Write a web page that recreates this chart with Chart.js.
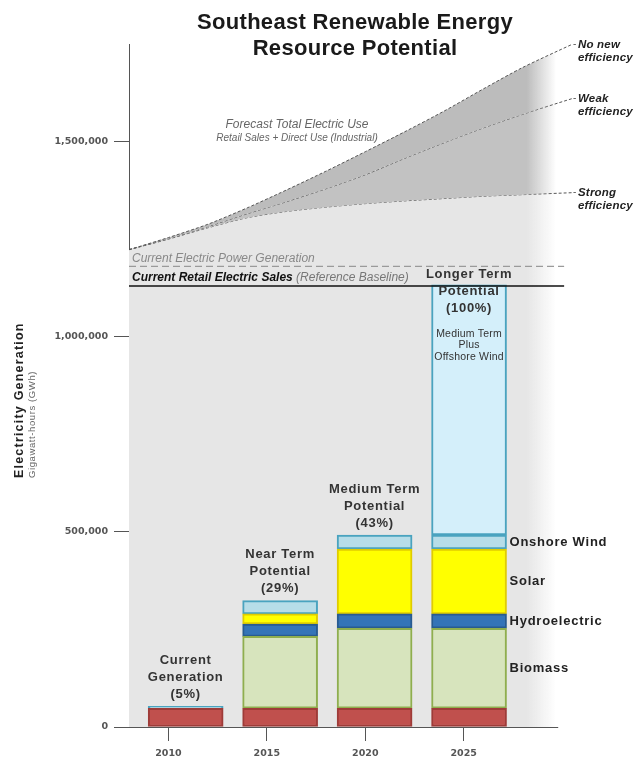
<!DOCTYPE html>
<html>
<head>
<meta charset="utf-8">
<title>Southeast Renewable Energy Resource Potential</title>
<script src="https://cdn.jsdelivr.net/npm/chart.js@4.4.1/dist/chart.umd.min.js"></script>
<style>
  html, body { margin: 0; padding: 0; background: #fff; }
</style>
</head>
<body>
<canvas id="chart" width="639" height="761"></canvas>
<script>
// bar categories and tick labels
const years = [2010, 2015, 2020, 2025];
const yTicks = [0, 500000, 1000000, 1500000];

// stacked generation potential (GWh), bottom to top
const existing = [48000, 48000, 48000, 48000];
const biomass = [0, 184000, 205000, 205000];
const hydro = [0, 32000, 37000, 37000];
const solar = [0, 26000, 166000, 166000];
const onshoreWind = [5000, 34000, 36000, 36000];
const offshoreWind = [0, 0, 0, 641000];

const barLabels = [
  ["Current", "Generation", "(5%)"],
  ["Near Term", "Potential", "(29%)"],
  ["Medium Term", "Potential", "(43%)"],
  ["Longer Term", "Potential", "(100%)"]
];
const offshoreNote = ["Medium Term", "Plus", "Offshore Wind"];
const segmentLabels = ["Biomass", "Hydroelectric", "Solar", "Onshore Wind"];

// forecast total electric use (GWh)
const forecastYears = [2008, 2010, 2012, 2014, 2016, 2018, 2020, 2022, 2024, 2026, 2028, 2030.5];
const noNewEfficiency = [1223000, 1254000, 1288000, 1330000, 1376000, 1424000, 1474000, 1525000, 1578000, 1635000, 1690000, 1749000];
const weakEfficiency = [1223000, 1251000, 1282000, 1315000, 1346000, 1379000, 1415000, 1457000, 1497000, 1535000, 1570000, 1610000];
const strongEfficiency = [1223000, 1250000, 1279000, 1305000, 1321000, 1332000, 1341000, 1348000, 1354000, 1360000, 1364000, 1369000];
const efficiencyLabels = [["No new", "efficiency"], ["Weak", "efficiency"], ["Strong", "efficiency"]];

// reference lines
const refYears = [2008, 2030.1];
const powerGeneration = 1180000;
const retailSales = 1130000;

const FONT = '"Liberation Sans", Arial, sans-serif';
const TICKFONT = '"DejaVu Sans", "Liberation Sans", sans-serif';
const axisEnd = 2029.8;
const fadeFrom = 2028.2, fadeTo = 2029.7;

function fade(r, g, b) {
  return (c) => {
    const chart = c.chart;
    const xs = chart.scales && chart.scales.x;
    if (!chart.chartArea || !xs) return `rgb(${r},${g},${b})`;
    const x0 = xs.getPixelForValue(fadeFrom), x1 = xs.getPixelForValue(fadeTo);
    const grad = chart.ctx.createLinearGradient(x0, 0, x1, 0);
    grad.addColorStop(0, `rgba(${r},${g},${b},1)`);
    grad.addColorStop(1, `rgba(${r},${g},${b},0)`);
    return grad;
  };
}

function bar(label, values, bg, border) {
  return {
    type: "bar", label,
    data: values.map((v, i) => ({ x: i, y: v })).filter(p => p.y > 0),
    xAxisID: "xb", yAxisID: "y", stack: "bars", order: 1, grouped: false,
    backgroundColor: bg, borderColor: border, borderWidth: 2,
    borderSkipped: false, barThickness: 75
  };
}

function forecast(label, values, fill, bg, order) {
  return {
    type: "line", label,
    data: forecastYears.map((x, i) => ({ x, y: values[i] })),
    xAxisID: "x", yAxisID: "y", stack: label, order,
    borderColor: "#555", borderWidth: 1, borderDash: [3, 2],
    pointRadius: 0, tension: 0.25, fill, backgroundColor: bg
  };
}

function refLine(label, value, color, width, dash) {
  return {
    type: "line", label,
    data: refYears.map(x => ({ x, y: value })),
    xAxisID: "x", yAxisID: "y", stack: label, order: 0,
    borderColor: color, borderWidth: width, borderDash: dash,
    pointRadius: 0, fill: false
  };
}

function put(ctx, s, px, py, font, color, align, spacing) {
  ctx.font = font;
  ctx.fillStyle = color;
  ctx.textAlign = align || "center";
  ctx.textBaseline = "middle";
  ctx.letterSpacing = (spacing || 0) + "px";
  ctx.fillText(s, px, py);
}

const textPlugin = {
  id: "texts",
  afterDatasetsDraw(chart) {
    const { ctx, chartArea: area, scales: { x, y } } = chart;
    ctx.save();
    ctx.strokeStyle = "#555";
    ctx.lineWidth = 1;
    const by = Math.round(y.getPixelForValue(0)) + 0.5;
    ctx.beginPath();
    ctx.moveTo(area.left, by);
    ctx.lineTo(x.getPixelForValue(axisEnd), by);
    ctx.stroke();
    ctx.restore();
  },
  afterDraw(chart) {
    const { ctx, scales: { x, xb, y } } = chart;
    ctx.save();

    // title
    put(ctx, "Southeast Renewable Energy", 355, 23, "bold 22px " + FONT, "#1a1a1a", "center", 0.3);
    put(ctx, "Resource Potential", 355, 49, "bold 22px " + FONT, "#1a1a1a", "center", 0.3);

    // y axis title
    ctx.save();
    ctx.translate(20, 478);
    ctx.rotate(-Math.PI / 2);
    put(ctx, "Electricity Generation", 0, 0, "bold 12.5px " + FONT, "#222", "left", 1.2);
    ctx.restore();
    ctx.save();
    ctx.translate(32, 478);
    ctx.rotate(-Math.PI / 2);
    put(ctx, "Gigawatt-hours (GWh)", 0, 0, "9.5px " + FONT, "#666", "left", 0.6);
    ctx.restore();

    // forecast annotation
    put(ctx, "Forecast Total Electric Use", 297, 125, "italic 12px " + FONT, "#666");
    put(ctx, "Retail Sales + Direct Use (Industrial)", 297, 138, "italic 10px " + FONT, "#666");

    // reference line labels
    const left = chart.chartArea.left + 3;
    put(ctx, "Current Electric Power Generation", left, y.getPixelForValue(powerGeneration) - 7.5,
      "italic 12px " + FONT, "#888", "left");
    const ry = y.getPixelForValue(retailSales) - 8.5;
    const boldPart = "Current Retail Electric Sales";
    put(ctx, boldPart, left, ry, "italic bold 12px " + FONT, "#111", "left");
    const w = ctx.measureText(boldPart).width;
    put(ctx, " (Reference Baseline)", left + w, ry, "italic 12px " + FONT, "#777", "left");

    // efficiency labels at line ends
    [noNewEfficiency, weakEfficiency, strongEfficiency].forEach((series, k) => {
      const ex = x.getPixelForValue(forecastYears[forecastYears.length - 1]);
      const ey = y.getPixelForValue(series[series.length - 1]);
      put(ctx, "-", ex + 1, ey, "10px " + FONT, "#555", "left");
      put(ctx, efficiencyLabels[k][0], ex + 6, ey, "italic bold 11.5px " + FONT, "#222", "left", 0.2);
      put(ctx, efficiencyLabels[k][1], ex + 6, ey + 13.5, "italic bold 11.5px " + FONT, "#222", "left", 0.2);
    });

    // labels above bars
    const stacks = [existing, biomass, hydro, solar, onshoreWind, offshoreWind];
    years.forEach((yr, i) => {
      const total = stacks.reduce((s, arr) => s + arr[i], 0);
      const top = y.getPixelForValue(total);
      const cx = xb.getPixelForValue(i);
      const first = i < 3 ? top - 46 : top - 10;
      barLabels[i].forEach((line, k) => {
        put(ctx, line, cx, first + k * 17, "bold 13px " + FONT, "#333", "center", 0.7);
      });
    });

    // note inside the longer term bar
    const last = years.length - 1;
    const lastTop = y.getPixelForValue(stacks.reduce((s, arr) => s + arr[last], 0));
    offshoreNote.forEach((line, k) => {
      put(ctx, line, xb.getPixelForValue(last), lastTop + 49 + k * 11.5, "10.5px " + FONT, "#333", "center", 0.2);
    });

    // segment labels to the right of the last bar
    let below = existing[last];
    [biomass, hydro, solar, onshoreWind].forEach((arr, k) => {
      const mid = y.getPixelForValue(below + arr[last] / 2);
      below += arr[last];
      put(ctx, segmentLabels[k], xb.getPixelForValue(last) + 40.5, mid, "bold 13px " + FONT, "#222", "left", 0.75);
    });

    ctx.restore();
  }
};

new Chart(document.getElementById("chart"), {
  data: {
    datasets: [
      refLine("Current Retail Electric Sales", retailSales, "#111", 1.6, []),
      refLine("Current Electric Power Generation", powerGeneration, "#9a9a9a", 1.2, [7, 4]),
      bar("Current generation", existing, "#c0504d", "#9e3b38"),
      bar("Biomass", biomass, "#d7e4bd", "#8fae4f"),
      bar("Hydroelectric", hydro, "#3474b8", "#285b91"),
      bar("Solar", solar, "#ffff00", "#e0cc00"),
      bar("Onshore Wind", onshoreWind, "#b7dde8", "#4aa3bf"),
      bar("Offshore Wind", offshoreWind, "#d4effa", "#4aa3bf"),
      forecast("No new efficiency", noNewEfficiency, "+1", fade(188, 188, 188), 2),
      forecast("Weak efficiency", weakEfficiency, "+1", fade(194, 194, 194), 3),
      forecast("Strong efficiency", strongEfficiency, "origin", fade(230, 230, 230), 4)
    ]
  },
  options: {
    responsive: false,
    animation: false,
    layout: { padding: { top: 44, right: 67, left: 0, bottom: 0 } },
    plugins: { legend: { display: false }, tooltip: { enabled: false } },
    scales: {
      x: {
        type: "linear", min: 2008, max: 2030.5, offset: false,
        afterBuildTicks: s => { s.ticks = years.map(v => ({ value: v })); },
        afterFit: s => { s.height = 34; },
        ticks: { callback: v => String(v), font: { family: TICKFONT, size: 9.5, weight: "bold" }, color: "#555", padding: 7, maxRotation: 0 },
        grid: { drawOnChartArea: false, tickLength: 14, color: "#555", offset: false },
        border: { display: false }
      },
      xb: { type: "linear", display: false, min: -0.6, max: 4.09, stacked: true, offset: false, grid: { offset: false } },
      y: {
        type: "linear", min: 0, max: 1750000, stacked: true,
        afterBuildTicks: s => { s.ticks = yTicks.map(v => ({ value: v })); },
        afterFit: s => { s.width = 129; },
        ticks: { callback: v => v.toLocaleString("en-US"), font: { family: TICKFONT, size: 9.5, weight: "bold" }, color: "#555", padding: 6 },
        grid: { drawOnChartArea: false, tickLength: 15, color: "#555" },
        border: { display: true, color: "#555", width: 1 }
      }
    }
  },
  plugins: [textPlugin]
});
</script>
</body>
</html>
